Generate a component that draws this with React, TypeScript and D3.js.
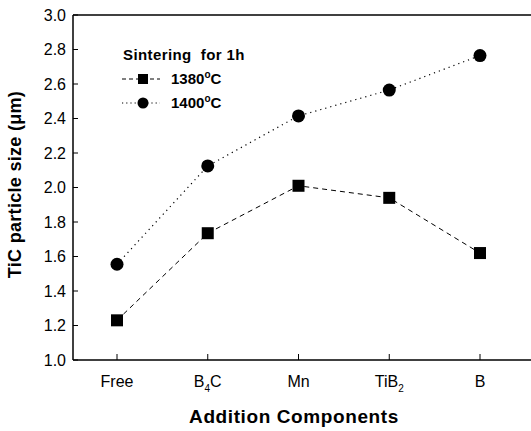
import React from "react";
import * as d3 from "d3";

const categories = ["Free", "B4C", "Mn", "TiB2", "B"];
const sizes1380 = [1.23, 1.735, 2.01, 1.94, 1.62];
const sizes1400 = [1.555, 2.125, 2.415, 2.565, 2.765];
const yTicks = [1.0, 1.2, 1.4, 1.6, 1.8, 2.0, 2.2, 2.4, 2.6, 2.8, 3.0];

const W = 531;
const H = 431;
const left = 73;
const top = 15;
const bottom = 360;
const font = "Arial, 'Liberation Sans', Helvetica, sans-serif";

function CatLabel({ name }: { name: string }) {
  const m = name.match(/^([A-Za-z]+?)(\d)(.*)$/);
  if (!m) return <>{name}</>;
  return (
    <>
      {m[1]}
      <tspan dy={5} fontSize={10}>{m[2]}</tspan>
      {m[3] ? <tspan dy={-5}>{m[3]}</tspan> : null}
    </>
  );
}

export default function App() {
  const x = d3.scalePoint<number>().domain(d3.range(categories.length)).range([117, 480]);
  const y = d3.scaleLinear().domain([1, 3]).range([bottom, top]);

  const line = d3
    .line<number>()
    .x((d, i) => x(i) as number)
    .y(d => y(d));

  return (
    <svg
      width={W}
      height={H}
      style={{ position: "absolute", left: 0, top: 0, background: "#fff" }}
      fontFamily={font}
    >
      {/* frame */}
      <line x1={left} x2={W} y1={top} y2={top} stroke="#000" strokeWidth={1.5} />
      <line x1={left} x2={W} y1={bottom} y2={bottom} stroke="#000" strokeWidth={1.5} />
      <line x1={left} x2={left} y1={top} y2={bottom} stroke="#000" strokeWidth={1.5} />

      {/* y ticks */}
      {yTicks.map(t => (
        <g key={t}>
          <line x1={left} x2={left + 5} y1={y(t)} y2={y(t)} stroke="#000" strokeWidth={1} />
          <text x={66} y={y(t) + 5.5} textAnchor="end" fontSize={16}>
            {d3.format(".1f")(t)}
          </text>
        </g>
      ))}

      {/* x ticks */}
      {categories.map((c, i) => (
        <g key={c}>
          <line x1={x(i)} x2={x(i)} y1={bottom} y2={bottom - 6} stroke="#000" strokeWidth={1} />
          <text x={x(i)} y={387} textAnchor="middle" fontSize={16}>
            <CatLabel name={c} />
          </text>
        </g>
      ))}

      {/* axis titles */}
      <text x={294} y={423} textAnchor="middle" fontSize={19} fontWeight="bold" letterSpacing={0.6}>
        Addition Components
      </text>
      <text
        transform={`translate(21,${(top + bottom) / 2 - 3}) rotate(-90)`}
        textAnchor="middle"
        fontSize={18}
        fontWeight="bold"
        letterSpacing={0.3}
      >
        TiC particle size (μm)
      </text>

      {/* series */}
      <path d={line(sizes1380) ?? ""} fill="none" stroke="#000" strokeWidth={1} strokeDasharray="5,4" />
      <path d={line(sizes1400) ?? ""} fill="none" stroke="#000" strokeWidth={1.2} strokeDasharray="1.2,4" />
      {sizes1380.map((v, i) => (
        <rect key={"s" + i} x={(x(i) as number) - 6} y={y(v) - 6} width={12} height={12} fill="#000" />
      ))}
      {sizes1400.map((v, i) => (
        <circle key={"c" + i} cx={x(i) as number} cy={y(v)} r={6.5} fill="#000" />
      ))}

      {/* legend */}
      <g fontWeight="bold" fontSize={15}>
        <text x={123} y={60} letterSpacing={0.4}>Sintering&nbsp; for 1h</text>
        <line x1={122} x2={160} y1={79} y2={79} stroke="#000" strokeDasharray="4,3" />
        <rect x={138} y={74} width={10} height={10} fill="#000" />
        <text x={171} y={84}>
          1380<tspan dy={-6} fontSize={10}>o</tspan><tspan dy={6}>C</tspan>
        </text>
        <line x1={122} x2={160} y1={103} y2={103} stroke="#000" strokeDasharray="1.2,3" />
        <circle cx={143} cy={103} r={5.5} fill="#000" />
        <text x={171} y={108}>
          1400<tspan dy={-6} fontSize={10}>o</tspan><tspan dy={6}>C</tspan>
        </text>
      </g>
    </svg>
  );
}
